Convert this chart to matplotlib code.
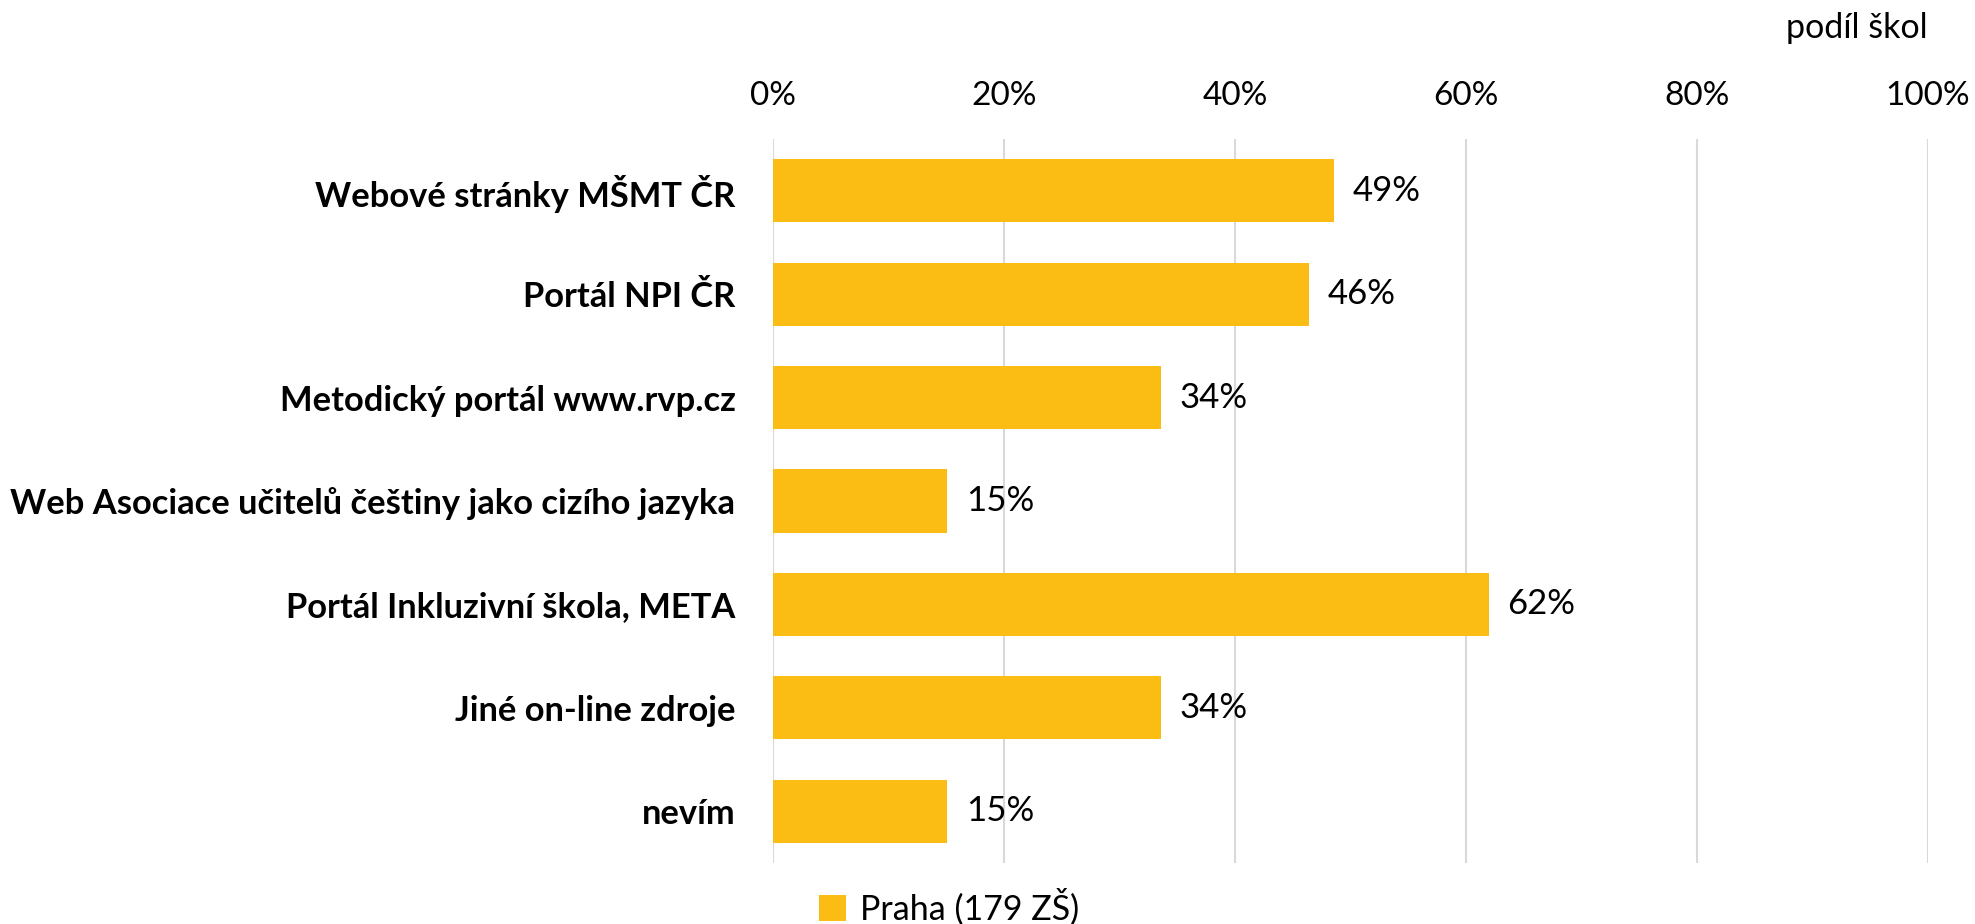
import matplotlib.pyplot as plt

# data
kategorie = ['Webové stránky MŠMT ČR', 'Portál NPI ČR', 'Metodický portál www.rvp.cz',
             'Web Asociace učitelů češtiny jako cizího jazyka', 'Portál Inkluzivní škola, META',
             'Jiné on-line zdroje', 'nevím']
podil = [48.6, 46.4, 33.6, 15.1, 62.0, 33.6, 15.1]
xticks = [0, 20, 40, 60, 80, 100]
xtick_labels = ['0%', '20%', '40%', '60%', '80%', '100%']
serie = 'Praha (179 ZŠ)'

plt.rcParams['font.family'] = ['Lato', 'DejaVu Sans']
barva = '#FBBC14'

fig = plt.figure(figsize=(19.75, 9.24), dpi=100)
ax = fig.add_axes([773 / 1975, 1 - 863 / 924, (1928 - 773) / 1975, (863 - 139) / 924])

y = list(range(len(kategorie)))
bars = ax.barh(y, podil, height=0.61, color=barva, label=serie, zorder=3)
for yi, v in zip(y, podil):
    ax.text(v + 1.6, yi, '%.0f%%' % v, va='center', ha='left', fontsize=25)

ax.set_xlim(0, 100)
ax.set_ylim(len(kategorie) - 0.5, -0.5)
ax.set_xticks(xticks)
ax.set_xticklabels(xtick_labels, fontsize=24)
ax.xaxis.tick_top()
ax.tick_params(axis='x', length=0, pad=20)
ax.set_yticks(y)
ax.set_yticklabels(kategorie, fontsize=24.8, fontweight='bold')
ax.tick_params(axis='y', length=0, pad=27)
ax.grid(axis='x', color='#D9D9D9', linewidth=1.5, zorder=0)
for s in ax.spines.values():
    s.set_visible(False)

fig.text(1928 / 1975, 1 - 28 / 924, 'podíl škol', ha='right', va='center', fontsize=24.5)
fig.legend(handles=[bars], labels=[serie], loc='center', bbox_to_anchor=(949 / 1975, 1 - 907 / 924),
           frameon=False, fontsize=24.5, handlelength=0.8, handleheight=0.8, handletextpad=0.4)

plt.savefig('out.png')
